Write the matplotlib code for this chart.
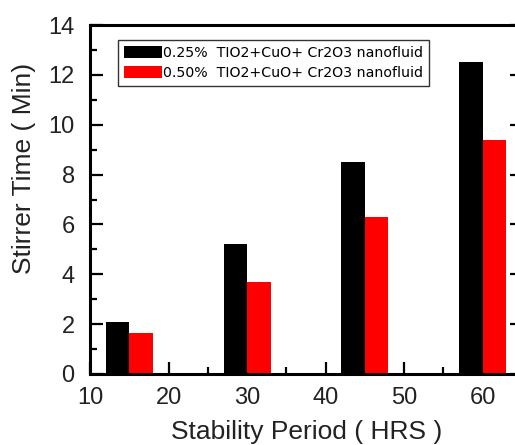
"""
Stirrer time vs stability period, grouped bars
"""
import matplotlib
matplotlib.use('agg')
import matplotlib.pyplot as plt
from matplotlib.ticker import MultipleLocator

plt.rcParams['font.family'] = ['Liberation Sans', 'DejaVu Sans']

# data
periods = [15, 30, 45, 60]
time_025 = [2.1, 5.2, 8.5, 12.5]
time_050 = [1.65, 3.7, 6.3, 9.4]
labels = ["0.25%  TIO2+CuO+ Cr2O3 nanofluid",
          "0.50%  TIO2+CuO+ Cr2O3 nanofluid"]

bar_w = 3.0

fig = plt.figure(figsize=(5.15, 4.45), dpi=100)
ax = fig.add_axes([90 / 515, 71 / 445, 432 / 515, 349 / 445])

ax.bar([p - bar_w / 2 for p in periods], time_025, width=bar_w,
       color="#000000", label=labels[0], zorder=1)
ax.bar([p + bar_w / 2 for p in periods], time_050, width=bar_w,
       color="#ff0000", label=labels[1], zorder=1)

ax.set_xlim(10, 65)
ax.set_ylim(0, 14)
ax.xaxis.set_major_locator(MultipleLocator(10))
ax.xaxis.set_minor_locator(MultipleLocator(5))
ax.yaxis.set_major_locator(MultipleLocator(2))
ax.yaxis.set_minor_locator(MultipleLocator(1))
ax.set_axisbelow(True)

ax.tick_params(which='both', direction='in', top=False, right=True,
               width=1.6, labelsize=17, colors='black')
ax.tick_params(which='major', length=9)
ax.tick_params(which='minor', length=5)
ax.tick_params(axis='y', pad=11)
ax.tick_params(axis='x', pad=9.5)
for lab in ax.get_xticklabels() + ax.get_yticklabels():
    lab.set_color('#222222')

for sp in ax.spines.values():
    sp.set_linewidth(2.2)

fig.text(307 / 515, 6 / 445, "Stability Period ( HRS )", fontsize=19,
         ha='center', va='baseline', color='#222222')
fig.text(24 / 515, 1 - 168 / 445, "Stirrer Time ( Min)", fontsize=19,
         ha='center', va='center', rotation=90, color='#222222')

leg = ax.legend(loc='upper left', bbox_to_anchor=(28 / 432, 1 - 15 / 349),
                prop={'family': 'DejaVu Sans', 'size': 10.2},
                frameon=True, fancybox=False, edgecolor='black',
                handlelength=2.7, handleheight=0.95, handletextpad=0.1,
                labelspacing=0.45, borderpad=0.4, borderaxespad=0)
leg.get_frame().set_linewidth(1.0)

fig.savefig("out.png", dpi=100)
plt.close()
